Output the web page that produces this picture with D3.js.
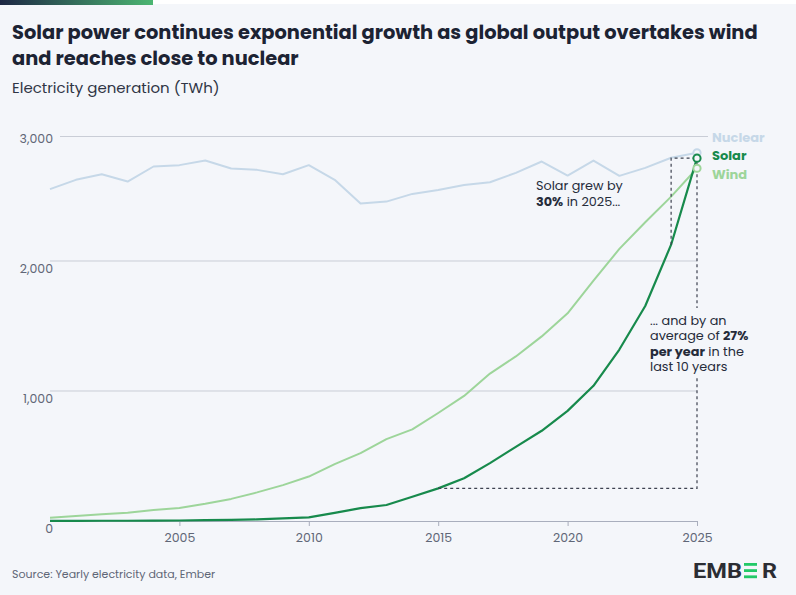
<!DOCTYPE html>
<html>
<head>
<meta charset="utf-8">
<script src="https://cdn.jsdelivr.net/npm/d3@7"></script>
<style>
  html, body { margin: 0; padding: 0; background: #f4f6fa; }
  svg { display: block; font-family: Poppins, Inter, "Open Sans", sans-serif; }
</style>
</head>
<body>
<svg id="chart" width="796" height="595"></svg>
<script>
// generacion electrica mundial (TWh)
var years = [2000, 2001, 2002, 2003, 2004, 2005, 2006, 2007, 2008, 2009, 2010, 2011, 2012,
             2013, 2014, 2015, 2016, 2017, 2018, 2019, 2020, 2021, 2022, 2023, 2024, 2025];
var nuclear = [2577, 2652, 2697, 2638, 2759, 2770, 2807, 2743, 2732, 2697, 2770, 2652, 2461,
               2477, 2539, 2571, 2611, 2633, 2708, 2799, 2686, 2807, 2684, 2748, 2829, 2869];
var wind = [25, 38, 52, 63, 85, 100, 132, 170, 220, 276, 342, 437, 522,
            630, 705, 831, 962, 1134, 1266, 1420, 1598, 1849, 2097, 2311, 2517, 2745];
var solar = [1, 1, 2, 2, 3, 4, 6, 8, 12, 20, 28, 63, 99,
             123, 187, 251, 329, 445, 570, 694, 847, 1040, 1319, 1654, 2131, 2826];

var yTicks = [0, 1000, 2000, 3000];
var xTicks = [2005, 2010, 2015, 2020, 2025];
var seriesNames = ["Nuclear", "Solar", "Wind"];
var seriesColors = ["#c6d8e8", "#178a4c", "#9dd59a"];

var svg = d3.select("#chart");
var bg = "#f4f6fa";

var x = d3.scaleLinear().domain([2000, 2025]).range([50, 697]);
// el grafico original no es del todo lineal, se ajusta por tramos
var y = d3.scaleLinear().domain(yTicks).range([521, 391, 261, 136.5]);
var yLab = d3.scaleLinear().domain([0, 3000]).range([528, 138]);

// barra superior
var grad = svg.append("defs").append("linearGradient").attr("id", "topbar");
grad.append("stop").attr("offset", "0%").attr("stop-color", "#1d2744");
grad.append("stop").attr("offset", "100%").attr("stop-color", "#4cb672");
svg.append("rect").attr("x", 0).attr("y", 0).attr("width", 796).attr("height", 4).attr("fill", "#ffffff");
svg.append("rect").attr("x", 0).attr("y", 0).attr("width", 153).attr("height", 5).attr("fill", "url(#topbar)");

// titulos
svg.append("text").attr("x", 12).attr("y", 39.3)
  .attr("font-size", 19.4).attr("font-weight", 700).attr("fill", "#1c2333")
  .text("Solar power continues exponential growth as global output overtakes wind");
svg.append("text").attr("x", 12).attr("y", 64.5)
  .attr("font-size", 19.4).attr("font-weight", 700).attr("fill", "#1c2333")
  .text("and reaches close to nuclear");
svg.append("text").attr("x", 12).attr("y", 93)
  .attr("font-size", 15).attr("fill", "#2f3545")
  .text("Electricity generation (TWh)");

// lineas de la cuadricula
svg.append("g").selectAll("line")
  .data(yTicks.filter(function(d) { return d > 0; })).enter()
  .append("line")
    .attr("x1", function(d) { return d == 3000 ? 60 : 50; })
    .attr("x2", function(d) { return d == 3000 ? 708 : 697; })
    .attr("y1", function(d) { return y(d); })
    .attr("y2", function(d) { return y(d); })
    .attr("stroke", "#c9cdd6").attr("stroke-width", 1);

// eje y (solo etiquetas)
var yAxis = svg.append("g").attr("transform", "translate(53,0)")
  .call(d3.axisLeft(yLab).tickValues(yTicks).tickSize(0).tickPadding(0).tickFormat(d3.format(",")));
yAxis.select(".domain").remove();
yAxis.selectAll("text").attr("font-size", 12.5).attr("fill", "#5f6677")
  .attr("font-family", "Poppins, Inter, sans-serif");

// eje x
var xAxis = svg.append("g").attr("transform", "translate(0," + y(0) + ")")
  .call(d3.axisBottom(x).tickValues(xTicks).tickSize(5).tickPadding(7).tickFormat(d3.format("d")));
xAxis.select(".domain").attr("stroke", "#a9aebd").attr("stroke-width", 1.2).attr("d", "M50,0.5H697");
xAxis.selectAll(".tick line").attr("stroke", "#a9aebd");
xAxis.selectAll("text").attr("font-size", 12.5).attr("fill", "#5f6677")
  .attr("font-family", "Poppins, Inter, sans-serif");

// series
var line = d3.line()
  .x(function(d, i) { return x(years[i]); })
  .y(function(d) { return y(d); });

var series = [nuclear, solar, wind];
var drawOrder = [0, 2, 1];
drawOrder.forEach(function(k) {
  svg.append("path")
    .datum(series[k])
    .attr("d", line)
    .attr("fill", "none")
    .attr("stroke", seriesColors[k])
    .attr("stroke-width", k == 1 ? 2.2 : 2)
    .attr("stroke-linejoin", "round");
});

// lineas punteadas de la anotacion
var last = years.length - 1;
var i15 = years.indexOf(2015), i24 = years.indexOf(2024);
var dashes = [
  [[years[i15], solar[i15]], [years[last], solar[i15]], [years[last], solar[last]]],
  [[years[i24], solar[i24]], [years[i24], solar[last]], [years[last], solar[last]]]
];
var dashLine = d3.line()
  .x(function(d) { return x(d[0]); })
  .y(function(d) { return y(d[1]); });
svg.append("g").selectAll("path")
  .data(dashes).enter()
  .append("path")
    .attr("d", dashLine)
    .attr("fill", "none")
    .attr("stroke", "#3d4250")
    .attr("stroke-width", 1.2)
    .attr("stroke-dasharray", "3,3");

// puntos finales
[0, 2, 1].forEach(function(k) {
  svg.append("circle")
    .attr("cx", x(years[last]))
    .attr("cy", y(series[k][last]))
    .attr("r", 3.6)
    .attr("fill", bg)
    .attr("stroke", seriesColors[k])
    .attr("stroke-width", 2);
});

// etiquetas de las series
var labelY = [141.5, 160, 178.5];
seriesNames.forEach(function(name, k) {
  svg.append("text")
    .attr("x", 712).attr("y", labelY[k])
    .attr("font-size", 13).attr("font-weight", 700)
    .attr("fill", seriesColors[k])
    .text(name);
});

// textos de anotacion, una linea por elemento
function annot(xPos, yPos, lines) {
  lines.forEach(function(parts, i) {
    var t = svg.append("text").attr("x", xPos).attr("y", yPos + i * 15.5)
      .attr("font-size", 12.8).attr("fill", "#262c3a");
    parts.forEach(function(p) {
      var ts = t.append("tspan").text(p[0]);
      if (p[1]) ts.attr("font-weight", 700);
    });
  });
}

annot(536, 190, [
  [["Solar grew by", false]],
  [["30%", true], [" in 2025...", false]]
]);

svg.append("rect").attr("x", 646).attr("y", 308).attr("width", 104).attr("height", 70).attr("fill", bg);
annot(650, 324.5, [
  [["... and by an", false]],
  [["average of ", false], ["27%", true]],
  [["per year", true], [" in the", false]],
  [["last 10 years", false]]
]);

// pie de pagina
svg.append("text").attr("x", 12).attr("y", 578)
  .attr("font-size", 11).attr("fill", "#5f6677")
  .text("Source: Yearly electricity data, Ember");

var logo = svg.append("g").attr("fill", "#2b2d33");
logo.append("text").attr("x", 693).attr("y", 578)
  .attr("font-family", "Roboto, sans-serif")
  .attr("font-size", 21).attr("font-weight", 700)
  .attr("textLength", 49).attr("lengthAdjust", "spacingAndGlyphs")
  .text("EMB");
[563, 569.2, 575.4].forEach(function(yy) {
  svg.append("rect").attr("x", 744).attr("y", yy).attr("width", 13).attr("height", 2.8).attr("fill", "#22c968");
});
logo.append("text").attr("x", 762).attr("y", 578)
  .attr("font-family", "Roboto, sans-serif")
  .attr("font-size", 21).attr("font-weight", 700)
  .attr("textLength", 15).attr("lengthAdjust", "spacingAndGlyphs")
  .text("R");
</script>
</body>
</html>
